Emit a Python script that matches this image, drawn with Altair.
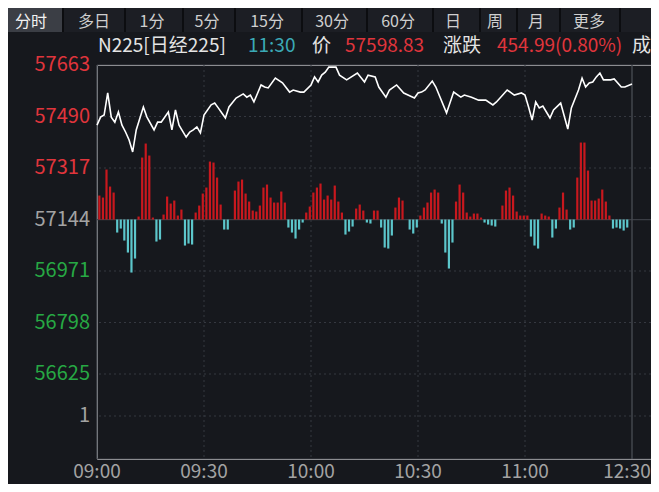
import altair as alt
import pandas as pd

# ---------------- data ----------------
# price line: minutes after 09:00 and index level
price_min = [0, 1, 2, 3, 4, 5, 6, 7, 8, 9, 10, 11, 13, 14, 16, 17, 18, 20, 21, 22, 23,
             25, 26, 27, 28, 29, 30, 32, 33, 34, 35, 36, 37, 39, 41, 42, 43, 44, 46, 47,
             48, 50, 52, 54, 55, 57, 58, 60, 61, 62, 63, 64, 65, 67, 68, 70, 73, 75, 76,
             78, 79, 81, 82, 84, 86, 89, 90, 91, 92, 94, 95, 98, 100, 102, 103, 105, 107,
             109, 111, 112, 115, 117, 119, 120, 121, 122, 123, 124, 125, 126, 127, 128,
             130, 132, 133, 135, 136, 137, 138, 139, 140, 141, 142, 144, 145, 147, 148, 150]
price_val = [57461, 57488, 57495, 57569, 57488, 57471, 57505, 57461, 57438, 57411, 57371, 57445,
             57522, 57488,
             57445, 57471, 57471,
             57505, 57445, 57512, 57461,
             57421, 57438, 57445, 57455, 57435, 57495,
             57529, 57535, 57519, 57502, 57485, 57522,
             57552,
             57566, 57555, 57562, 57539,
             57596, 57589, 57586,
             57619,
             57603,
             57572, 57579,
             57572, 57572,
             57596, 57623, 57606, 57629, 57639, 57656,
             57656, 57629,
             57613,
             57636,
             57606, 57629,
             57623, 57589,
             57555, 57579,
             57596,
             57569,
             57552, 57569, 57572, 57579,
             57609, 57589,
             57502,
             57572,
             57555, 57562,
             57555,
             57545,
             57545,
             57529, 57539,
             57579,
             57562,
             57569, 57562, 57522, 57478, 57539, 57519, 57525, 57505, 57485, 57512,
             57535,
             57448, 57519,
             57579, 57619, 57589, 57603, 57606, 57623, 57636, 57613,
             57613, 57616,
             57589, 57589,
             57598.83]

# red / cyan indicator bars, one per minute from 09:01 to 11:29
flow_min = list(range(1, 150))
flow_val = [24, 22, 50, 33, 27, -13, -9, -21, -33, -53, -39, 3, 62, 76, 64, 2, -22, -20, 5, 23,
            16, 19, 4, 10, -26, -24, -25, 7, 14, 26, 32, 58, 57, 42, 15, -10, -10, 0, 29, 38,
            40, 26, 18, 9, 8, 14, 32, 35, 22, 17, 17, 28, 17, -8, -13, -19, -10, -3, 7, 13,
            27, 32, 36, 20, 24, 20, 34, 18, 7, -15, -12, -7, 11, 15, 9, -3, -4, 9, 9, -8,
            -28, -29, -16, 12, 22, 19, 0, -10, -14, -8, 4, 12, 17, 27, 30, 27, -4, -33, -49, -23,
            18, 35, 27, 7, 3, 6, 6, 2, -3, -5, -6, -7, 0, 14, 29, 32, 24, 8, 4, 4,
            4, -17, -26, -29, 6, 4, 3, -18, -9, 12, 27, 10, -10, -8, 42, 77, 77, 49, 19, 19,
            21, 30, 18, 4, -9, -8, -9, -11, -8]

prev_close = 57143.84
y_ticks = [57663, 57490, 57317, 57144, 56971, 56798, 56625]
vol_tick_label = "1"
x_tick_min = [0, 30, 60, 90, 120, 150]
x_tick_lab = ["09:00", "09:30", "10:00", "10:30", "11:00", "12:30"]
tabs = ["分时", "多日", "1分", "5分", "15分", "30分", "60分", "日", "周", "月", "更多"]
header_name = "N225[日经225]"
header_time = "11:30"
last_price = 57598.83
change = 454.99
change_pct = 0.80

# ---------------- layout / style ----------------
OX, OY = 97, 65            # page position of the plot origin
W = 651 - OX               # plot reaches the page's right margin
H = 394
TOTAL_H = 476
PX_PER_MIN = 535 / 150
STEP, STEP_PX = 173, 51.5
y_top = 57663
y_bot = y_top - H * STEP / STEP_PX
vol_pos = 56625 - 42 * STEP / STEP_PX
x_max = W / PX_PER_MIN
FLOW_K = STEP / STEP_PX

BG = "#16181d"
TABBAR = "#1c1e24"
TABSEL = "#3b3e45"
SEP = "#0c0d10"
GRID = "#353840"
BORDER = "#3a3d44"
RED = "#e0353c"
GREEN = "#27a844"
GREY = "#a3a3a3"
BAR_RED = "#c8181e"
BAR_CYAN = "#5cc6cb"
TEAL = "#3ba9b6"
TXT = "#e4e4e4"
FONT = "Noto Sans CJK SC"

tab_px = [31, 94, 152, 207, 267, 332, 398, 453, 495, 536, 589]
sep_px = [63, 125, 183, 235, 302, 367, 433, 480, 517, 560, 620]

xs = alt.Scale(domain=[0, x_max], nice=False, zero=False)
ys = alt.Scale(domain=[y_bot, y_top], nice=False, zero=False)

price_df = pd.DataFrame({"m": price_min, "p": price_val})
flow_df = pd.DataFrame({"m": flow_min, "f": flow_val})

# grid
ygrid_vals = [v for v in y_ticks if v not in (57663, 57144)] + [vol_pos]
ygrid = alt.Chart(pd.DataFrame({"v": ygrid_vals})).mark_rule(
    color=GRID, strokeWidth=1, strokeDash=[2, 3]).encode(
    y=alt.Y("v:Q", scale=ys, axis=None))
xgrid = alt.Chart(pd.DataFrame({"v": x_tick_min[1:-1]})).mark_rule(
    color=GRID, strokeWidth=1, strokeDash=[2, 3]).encode(
    x=alt.X("v:Q", scale=xs, axis=None))

# solid frame lines: top border, previous close, bottom border; left edge, 11:30 separator
hlines = alt.Chart(pd.DataFrame({"v": [y_top, prev_close, y_bot]})).mark_rule(
    color=BORDER, strokeWidth=1.2).encode(y=alt.Y("v:Q", scale=ys, axis=None))
vlines = alt.Chart(pd.DataFrame({"v": [0, 150]})).mark_rule(
    color="#464951", strokeWidth=1.4).encode(x=alt.X("v:Q", scale=xs, axis=None))

bars = alt.Chart(flow_df).transform_calculate(
    y0=f"{prev_close}", y1=f"{prev_close} + datum.f * {FLOW_K}"
).mark_rule(strokeWidth=2.2, xOffset=-1.2).encode(
    x=alt.X("m:Q", scale=xs, axis=None),
    y=alt.Y("y0:Q", scale=ys, axis=None),
    y2="y1:Q",
    color=alt.condition("datum.f > 0", alt.value(BAR_RED), alt.value(BAR_CYAN)),
)

line = alt.Chart(price_df).mark_line(color="#ffffff", strokeWidth=1.6).encode(
    x=alt.X("m:Q", scale=xs, axis=None),
    y=alt.Y("p:Q", scale=ys, axis=None),
)

# axis labels drawn through the scales
ylab_vals = y_ticks + [vol_pos]
ylab_text = [str(v) for v in y_ticks] + [vol_tick_label]
ylab_col = [RED if v > 57150 else (GREY if v > 57140 else GREEN) for v in y_ticks] + [GREY]
ylab = alt.Chart(pd.DataFrame({"v": ylab_vals, "t": ylab_text, "c": ylab_col})).mark_text(
    fontSize=20, font=FONT, align="right", baseline="middle").encode(
    y=alt.Y("v:Q", scale=ys, axis=None), x=alt.value(-7), text="t:N",
    color=alt.Color("c:N", scale=None))
xlab_df = pd.DataFrame({"m": x_tick_min, "t": x_tick_lab})
xlab = alt.Chart(xlab_df.iloc[:-1]).mark_text(
    fontSize=19, font=FONT, align="center", baseline="middle", color=GREY).encode(
    x=alt.X("m:Q", scale=xs, axis=None), y=alt.value(H + 13), text="t:N")
xlab_last = alt.Chart(xlab_df.iloc[-1:]).mark_text(
    fontSize=19, font=FONT, align="center", baseline="middle", color=GREY, dx=-5).encode(
    x=alt.X("m:Q", scale=xs, axis=None), y=alt.value(H + 13), text="t:N")

# tab bar and header (UI chrome)
one = pd.DataFrame({"a": [0]})
tab_bottom = 32 - OY
tabbar = alt.Chart(one).mark_rect(color=TABBAR).encode(
    x=alt.value(8 - OX), x2=alt.value(W), y=alt.value(8 - OY), y2=alt.value(tab_bottom))
tabsel = alt.Chart(one).mark_rect(color=TABSEL).encode(
    x=alt.value(8 - OX), x2=alt.value(63 - OX), y=alt.value(8 - OY), y2=alt.value(tab_bottom))
seps = alt.Chart(pd.DataFrame({"px": [p - OX for p in sep_px]})).mark_rule(
    color=SEP, strokeWidth=2).encode(
    x=alt.X("px:Q", scale=None), y=alt.value(8 - OY), y2=alt.value(tab_bottom))
tab_df = pd.DataFrame({"t": tabs, "px": [p - OX for p in tab_px],
                       "c": ["#f2f2f2"] + ["#cfcfcf"] * (len(tabs) - 1)})
tabtext = alt.Chart(tab_df).mark_text(fontSize=16, font=FONT, baseline="middle",
                                      align="center").encode(
    x=alt.X("px:Q", scale=None), y=alt.value(22 - OY), text="t:N",
    color=alt.Color("c:N", scale=None))

head_t = [header_name, header_time, "价", f"{last_price:.2f}", "涨跌",
          f"{change:.2f}({change_pct:.2f}%)", "成"]
head_c = [TXT, TEAL, TXT, RED, TXT, RED, TXT]
head_px = [98, 248, 312, 345, 443, 497, 632]
head_df = pd.DataFrame({"t": head_t, "c": head_c, "px": [p - OX for p in head_px]})
header = alt.Chart(head_df).mark_text(fontSize=19, font=FONT, baseline="middle",
                                      align="left").encode(
    x=alt.X("px:Q", scale=None), y=alt.value(46 - OY), text="t:N",
    color=alt.Color("c:N", scale=None))

chart = alt.layer(ygrid, xgrid, hlines, vlines, bars, line, ylab, xlab, xlab_last,
                  tabbar, tabsel, seps, tabtext, header).properties(
    width=W, height=H,
    autosize=alt.AutoSizeParams(type="none"),
    padding={"left": OX - 8, "top": OY - 8, "right": 0, "bottom": TOTAL_H - (OY - 8) - H},
    background=BG,
).configure_view(stroke=None).configure(font=FONT)

chart.save("out.html", embed_options={"renderer": "svg", "actions": False})
